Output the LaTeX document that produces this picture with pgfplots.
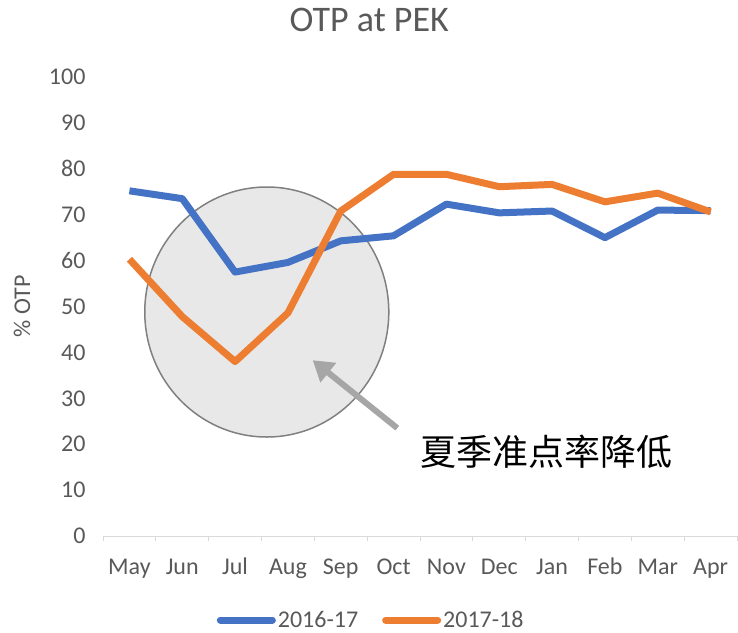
\documentclass[border=0pt]{standalone}
\usepackage{pgfplots}
\pgfplotsset{compat=1.18}
\usepackage{fontspec}
\setmainfont{Carlito}
\newfontfamily\cjk{Noto Sans CJK SC}
\usetikzlibrary{arrows.meta}
\definecolor{cblue}{HTML}{4472C4}
\definecolor{corange}{HTML}{ED7D31}
\definecolor{txt}{HTML}{595959}
\definecolor{axl}{HTML}{D9D9D9}
\definecolor{arr}{HTML}{A6A6A6}
\begin{document}
\begin{tikzpicture}
\path[use as bounding box] (0,0) rectangle (738pt,632pt);
\begin{axis}[
  at={(103pt,96pt)}, anchor=south west,
  scale only axis, width=634pt, height=459pt,
  xmin=-0.5, xmax=11.5, ymin=0, ymax=100,
  clip=false,
  axis x line*=bottom, axis y line*=left,
  y axis line style={draw=none},
  x axis line style={axl, line width=1pt},
  xtick={0,...,11},
  xticklabels={May,Jun,Jul,Aug,Sep,Oct,Nov,Dec,Jan,Feb,Mar,Apr},
  minor xtick={-0.5,0.5,...,11.5},
  major tick length=0pt,
  minor tick length=5pt,
  tick align=outside,
  minor tick style={axl, line width=1pt},
  ytick={0,10,...,100},
  /pgf/number format/assume math mode=true,
  tick label style={font=\fontsize{24}{28}\selectfont, text=txt},
  yticklabel style={xshift=-14pt},
  xticklabel style={anchor=base, yshift=-38pt},
  ylabel={\% OTP},
  every axis y label/.style={at={(axis description cs:-0.1278,0.5)}, rotate=90, anchor=center, font=\fontsize{24}{28}\selectfont, text=txt},
  title={OTP at PEK},
  every axis title/.style={at={(axis description cs:0.42,1)}, anchor=center, yshift=57pt, font=\fontsize{36}{42}\selectfont, text=txt},
  legend columns=2,
  legend style={draw=none, fill=none, at={(axis description cs:0.423,-0.183)}, anchor=center,
    font=\fontsize{24}{28}\selectfont, text=txt,
    /tikz/every even column/.append style={column sep=22pt}},
  legend image code/.code={\draw[#1, line cap=round] (0pt,0pt) -- (52pt,0pt);},
]
\draw[draw={rgb,255:red,128;green,128;blue,128}, line width=1.5pt, fill={rgb,255:red,232;green,232;blue,232}]
  (axis cs:2.6,48.8) ellipse [x radius=122pt, y radius=125pt];
\addplot[cblue, line width=7pt, line join=round] coordinates {
 (0,75.2) (1,73.5) (2,57.5) (3,59.6) (4,64.3) (5,65.4) (6,72.3) (7,70.4) (8,70.8) (9,65.0) (10,71.0) (11,70.9)};
\addlegendentry{2016-17}
\addplot[corange, line width=7pt, line join=round] coordinates {
 (0,60.3) (1,47.8) (2,38.0) (3,48.6) (4,70.8) (5,78.8) (6,78.8) (7,76.1) (8,76.6) (9,72.8) (10,74.7) (11,70.6)};
\addlegendentry{2017-18}
\draw[arr, line width=6pt, -{Triangle[length=20pt,width=24pt]}] (axis cs:5.07,23.5) -- (axis cs:3.47,38.3);
\node[font=\cjk\fontsize{36}{42}\selectfont, text=black] at (axis cs:7.9,18.3) {夏季准点率降低};
\end{axis}
\end{tikzpicture}
\end{document}
